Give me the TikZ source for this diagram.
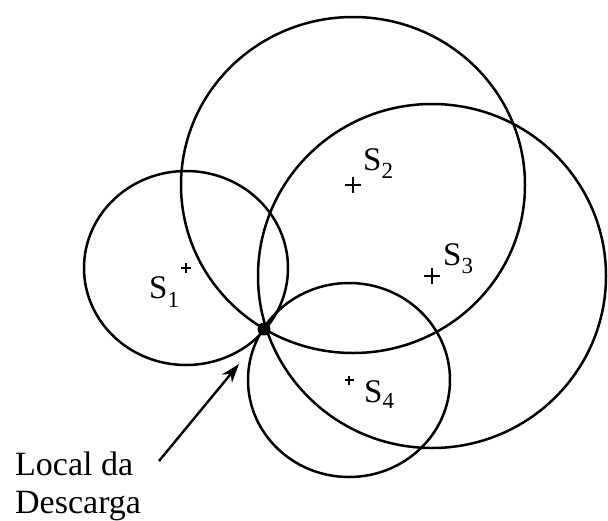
\documentclass[tikz,border=0pt]{standalone}
\usepackage{fontspec}
\setmainfont{Liberation Serif}
\usetikzlibrary{arrows.meta}
\begin{document}
\begin{tikzpicture}[x=1pt,y=-1pt,
  ring/.style={line width=2.5pt},
  crossbig/.style={line width=2.3pt},
  crosssmall/.style={line width=2pt},
  lbl/.style={inner sep=0pt, font=\fontsize{33}{38}\selectfont},
  txt/.style={inner sep=0pt, font=\fontsize{34}{38}\selectfont},
  pointer/.style={line width=2.4pt, -{Stealth[length=19pt,width=13pt]}}]
\useasboundingbox[fill=white] (0,0) rectangle (608,520);
% sensor centres
\coordinate (s1) at (186,268);
\coordinate (s2) at (353,185);
\coordinate (s3) at (432,276);
\coordinate (s4) at (349,380);
% circles
\draw[ring] (s1) ellipse [x radius=102, y radius=97];
\draw[ring] (s2) ellipse [x radius=172, y radius=168];
\draw[ring] (s3) ellipse [x radius=174, y radius=172];
\draw[ring] (s4) ellipse [x radius=101, y radius=97];
% crosses
\draw[crosssmall] ([xshift=-5pt]s1) -- ([xshift=5pt]s1) ([yshift=-5pt]s1) -- ([yshift=5pt]s1);
\draw[crossbig] ([xshift=-8pt]s2) -- ([xshift=8pt]s2) ([yshift=-8pt]s2) -- ([yshift=8pt]s2);
\draw[crossbig] ([xshift=-8pt]s3) -- ([xshift=8pt]s3) ([yshift=-8pt]s3) -- ([yshift=8pt]s3);
\draw[crosssmall] ([xshift=-4.5pt]s4) -- ([xshift=4.5pt]s4) ([yshift=-4.5pt]s4) -- ([yshift=4.5pt]s4);
% labels
\node[lbl, anchor=base west] (l1) at (149,298) {S\raisebox{-9pt}{\fontsize{23}{23}\selectfont 1}};
\node[lbl, anchor=base west] (l2) at (363,170) {S\raisebox{-8pt}{\fontsize{23}{23}\selectfont 2}};
\node[lbl, anchor=base west] (l3) at (443,265) {S\raisebox{-8pt}{\fontsize{23}{23}\selectfont 3}};
\node[lbl, anchor=base west] (l4) at (364,402) {S\raisebox{-6pt}{\fontsize{23}{23}\selectfont 4}};
% discharge point
\node[circle, fill=black, inner sep=0pt, minimum size=13pt] (P) at (264,329) {};
% text
\node[txt, anchor=base west] (t1) at (15,475) {Local da};
\node[txt, anchor=base west] (t2) at (15,513) {Descarga};
\coordinate (tail) at (159,461);
\coordinate (tip) at (239,364);
\draw[pointer] (tail) -- (tip);
\end{tikzpicture}
\end{document}
